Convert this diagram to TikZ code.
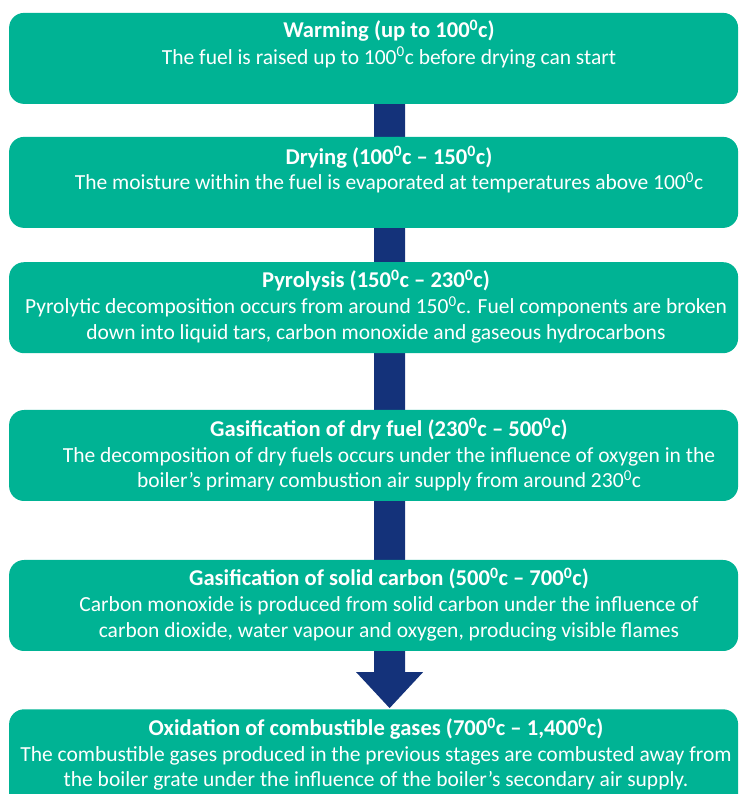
\documentclass[tikz,border=0pt]{standalone}
\usepackage{fontspec}
\setmainfont{Carlito}
\usetikzlibrary{calc,backgrounds}
\definecolor{boxgreen}{RGB}{0,179,148}
\definecolor{arrowblue}{RGB}{20,50,122}
\tikzset{
  stagebox/.style={rectangle, rounded corners=15pt, fill=boxgreen, draw=none,
    minimum width=729pt, minimum height=91pt, inner sep=0pt},
  ttl/.style={anchor=base, inner sep=0pt, text=white, font=\fontsize{22.6}{26}\selectfont\bfseries},
  txt/.style={anchor=base, inner sep=0pt, text=white, font=\fontsize{21.5}{26}\selectfont},
}
\newcommand{\dg}{\textsuperscript{0}}
\begin{document}
\begin{tikzpicture}[x=1pt,y=1pt]
\path[use as bounding box, clip] (0,0) rectangle (739,794);
% boxes
\node[stagebox] (b1) at (373.6,735.6) {};
\node[stagebox] (b2) at (373.6,611.6) {};
\node[stagebox] (b3) at (373.6,486.3) {};
\node[stagebox] (b4) at (373.6,338.5) {};
\node[stagebox] (b5) at (373.6,188.5) {};
\node[stagebox, minimum height=110pt] (b6) at (373.6,29.7) {};
% arrow behind the boxes
\begin{scope}[on background layer]
\coordinate (atop) at ($(b1.center)+(16,0)$);
\coordinate (atip) at ($(b6.north)+(16,1)$);
\fill[arrowblue] ($(atop)+(-15.5,0)$) -- ($(atop)+(15.5,0)$) -- ($(atip)+(15.5,36)$)
  -- ($(atip)+(33.5,36)$) -- (atip) -- ($(atip)+(-33.5,36)$) -- ($(atip)+(-15.5,36)$) -- cycle;
\end{scope}
% texts
\node[ttl] (t1) at (389,{794-37.7}) {Warming (up to 100\dg c)};
\node[txt] (t1a) at (389,{794-64.3}) {The fuel is raised up to 100\dg c before drying can start};
\node[ttl] (t2) at (389,{794-164.5}) {Drying (100\dg c -- 150\dg c)};
\node[txt] (t2a) at (389,{794-190}) {The moisture within the fuel is evaporated at temperatures above 100\dg c};
\node[ttl] (t3) at (376,{794-288}) {Pyrolysis (150\dg c -- 230\dg c)};
\node[txt] (t3a) at (376,{794-314}) {Pyrolytic decomposition occurs from around 150\dg c. Fuel components are broken};
\node[txt] (t3b) at (376,{794-340}) {down into liquid tars, carbon monoxide and gaseous hydrocarbons};
\node[ttl] (t4) at (389,{794-436.5}) {Gasification of dry fuel (230\dg c -- 500\dg c)};
\node[txt] (t4a) at (389,{794-462.5}) {The decomposition of dry fuels occurs under the influence of oxygen in the};
\node[txt] (t4b) at (389,{794-488}) {boiler’s primary combustion air supply from around 230\dg c};
\node[ttl] (t5) at (389,{794-586}) {Gasification of solid carbon (500\dg c -- 700\dg c)};
\node[txt] (t5a) at (389,{794-612}) {Carbon monoxide is produced from solid carbon under the influence of};
\node[txt] (t5b) at (389,{794-637.5}) {carbon dioxide, water vapour and oxygen, producing visible flames};
\node[ttl] (t6) at (376,{794-736}) {Oxidation of combustible gases (700\dg c -- 1,400\dg c)};
\node[txt] (t6a) at (376,{794-761.5}) {The combustible gases produced in the previous stages are combusted away from};
\node[txt] (t6b) at (376,{794-787}) {the boiler grate under the influence of the boiler’s secondary air supply.};
\end{tikzpicture}
\end{document}
